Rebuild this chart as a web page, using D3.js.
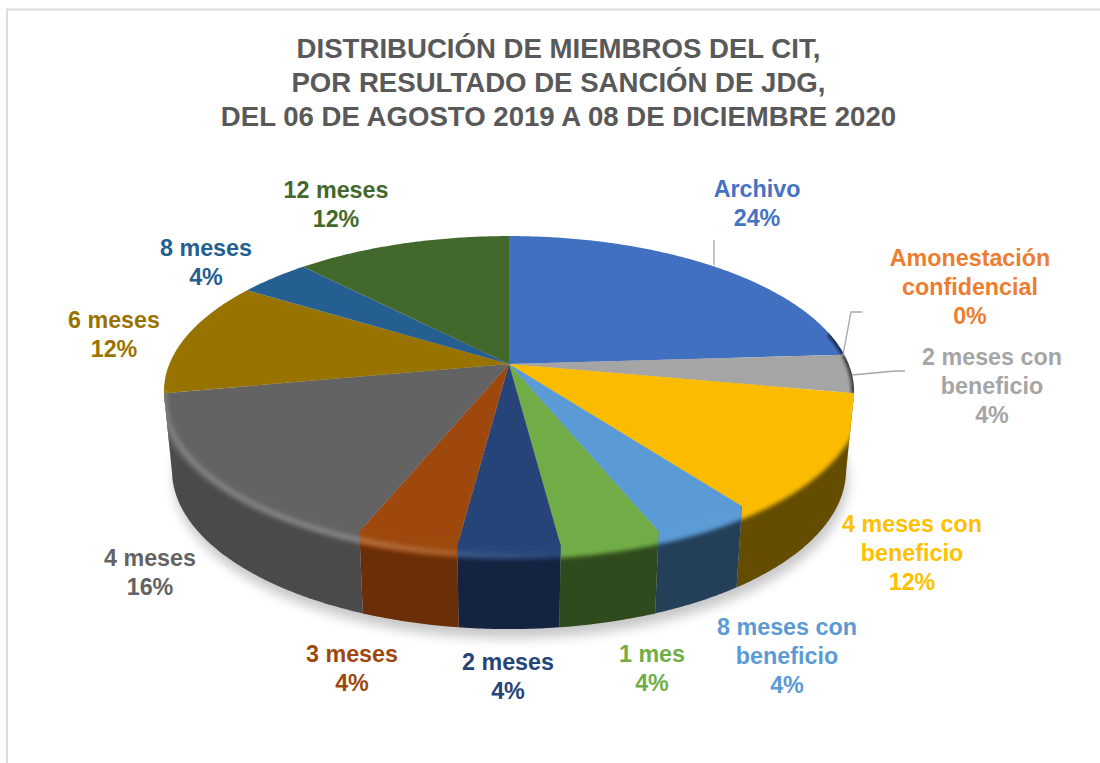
<!DOCTYPE html>
<html lang="es">
<head>
<meta charset="utf-8">
<script src="https://cdn.jsdelivr.net/npm/d3@7"></script>
<style>
html,body{margin:0;padding:0;background:#fff;overflow:hidden}
svg{display:block}
text{font-family:"Liberation Sans",Arial,sans-serif;font-weight:700}
</style>
</head>
<body>
<svg id="chart" width="1100" height="763"></svg>
<script>
// ---- data ----
const titleLines = [
  "DISTRIBUCIÓN DE MIEMBROS DEL CIT,",
  "POR RESULTADO DE SANCIÓN DE JDG,",
  "DEL 06 DE AGOSTO 2019 A 08 DE DICIEMBRE 2020"
];
const categories = [
  ["Archivo"], ["Amonestación", "confidencial"], ["2 meses con", "beneficio"],
  ["4 meses con", "beneficio"], ["8 meses con", "beneficio"], ["1 mes"],
  ["2 meses"], ["3 meses"], ["4 meses"], ["6 meses"], ["8 meses"], ["12 meses"]
];
const values = [24, 0, 4, 12, 4, 4, 4, 4, 16, 12, 4, 12];

// ---- styles ----
const topColors  = ["#4170c1","#ed7d31","#a5a5a5","#fbbc00","#5b9bd5","#70ad47","#264478","#9e480e","#636363","#997300","#255e91","#43682b"];
const sideColors = ["#2a4a80","#8a4a1e","#5a5a5a","#644d00","#243f58","#2f4a1d","#14233f","#6a2e08","#4a4a4a","#5c4500","#173a5a","#2a4219"];
const labelColors = ["#4472c4","#ed7d31","#a5a5a5","#ffc000","#5b9bd5","#70ad47","#264478","#9e480e","#636363","#997300","#255e91","#43682b"];

// ---- layout ----
const W = 1100, H = 763;
const labelPos = [[757,189],[970,258],[992,357],[912,524],[787,627],[652,654],[508,662],[352,654],[150,558],[114,320],[206,248],[336,190]];
const leaders = [
  [[714,240],[714,265]],
  [[843,355],[851,312],[862,312]],
  [[852,375],[895,371],[905,371]]
];
const K = 0.177;                                   // perspective strength
const topRim = {cx:509, cy:364, a:339.6, b:150.6}; // lid
const botRim = {cx:509, cy:442, a:331.7, b:154};   // base
const sideFrom = Math.acos(-K), sideTo = 2*Math.PI - sideFrom;

function project(r, th){
  const d = 1 + K*Math.cos(th);
  return [r.cx + r.a*Math.sin(th)/d, r.cy - r.b*Math.cos(th)/d];
}
function mix(t, th){
  const p = project(topRim, th), q = project(botRim, th);
  return [p[0]+(q[0]-p[0])*t, p[1]+(q[1]-p[1])*t];
}
const arcSamples = (a0, a1) => {
  const n = Math.max(2, Math.ceil((a1-a0)/0.01));
  return d3.range(n+1).map(i => a0 + (a1-a0)*i/n);
};
const line = d3.line();
const closed = d3.line().curve(d3.curveLinearClosed);

const svg = d3.select("#chart");
const defs = svg.append("defs");
[["blur1",1.4],["blur2",2.2],["blurS",6]].forEach(([id,s]) => {
  defs.append("filter").attr("id",id)
    .attr("filterUnits","userSpaceOnUse").attr("x",0).attr("y",0).attr("width",W).attr("height",H)
    .append("feGaussianBlur").attr("stdDeviation",s);
});
const hl = defs.append("linearGradient").attr("id","hl")
  .attr("gradientUnits","userSpaceOnUse").attr("x1",164).attr("x2",853).attr("y1",0).attr("y2",0);
[[0,.2],[.3,.22],[.46,.09],[.58,0],[1,0]].forEach(([o,a]) =>
  hl.append("stop").attr("offset",o).attr("stop-color","#fff").attr("stop-opacity",a));

// frame
svg.append("rect").attr("x",7).attr("y",9.5).attr("width",1300).attr("height",1000)
  .attr("fill","#fff").attr("stroke","#dcdcdc").attr("stroke-width",2);

// title
svg.append("g").attr("fill","#595959").attr("text-anchor","middle").attr("font-size",27.6)
  .selectAll("text").data(titleLines).join("text")
  .attr("x",558.5).attr("y",(d,i)=>58+34*i).text(d=>d);

// pie
const pieGen = d3.pie().sort(null).value(d=>d).startAngle(0).endAngle(2*Math.PI);
const slices = pieGen(values).map((s,i)=>({...s,i})).filter(s=>s.value>0);
const topPoly = s => [[topRim.cx,topRim.cy], ...arcSamples(s.startAngle,s.endAngle).map(t=>project(topRim,t))];
const sideRange = s => [Math.max(s.startAngle,sideFrom), Math.min(s.endAngle,sideTo)];
const hasSide = s => { const [a,b]=sideRange(s); return b>a; };
const sidePoly = s => {
  const [a,b]=sideRange(s), ts=arcSamples(a,b);
  return [...ts.map(t=>project(topRim,t)), ...ts.slice().reverse().map(t=>project(botRim,t))];
};

// ground shadow
svg.append("path")
  .attr("d", closed(arcSamples(0,2*Math.PI).map(t=>project(botRim,t))))
  .attr("fill","#000").attr("opacity",.22).attr("filter","url(#blurS)")
  .attr("transform","translate(2,9)");

// clip per slice
slices.forEach(s => {
  const c = defs.append("clipPath").attr("id","c"+s.i);
  c.append("path").attr("d",closed(topPoly(s)));
  if(hasSide(s)) c.append("path").attr("d",closed(sidePoly(s)));
});

// side walls
svg.append("g").selectAll("path").data(slices.filter(hasSide)).join("path")
  .attr("d",s=>closed(sidePoly(s))).attr("fill",s=>sideColors[s.i]);

// lids
svg.append("g").selectAll("path").data(slices).join("path")
  .attr("d",s=>closed(topPoly(s))).attr("fill",s=>topColors[s.i]);

// bevel
const bevel = svg.append("g");
slices.filter(hasSide).forEach(s => {
  const [a,b]=sideRange(s), ts=arcSamples(a-0.05,b+0.05);
  const g = bevel.append("g").attr("clip-path",`url(#c${s.i})`);
  g.append("path").attr("d",line(ts.map(t=>mix(0.05,t))))
    .attr("fill","none").attr("stroke",topColors[s.i]).attr("stroke-width",17).attr("filter","url(#blur2)");
  g.append("path").attr("d",line(ts.map(t=>mix(0.1,t))))
    .attr("fill","none").attr("stroke","url(#hl)").attr("stroke-width",5).attr("filter","url(#blur2)");
});
// dark edge at the back right of the lid
slices.forEach(s => {
  const a=Math.max(s.startAngle,1.36), b=Math.min(s.endAngle,1.76);
  if(b<=a) return;
  bevel.append("g").attr("clip-path",`url(#c${s.i})`).append("path")
    .attr("d",line(arcSamples(a,b).map(t=>project(topRim,t))))
    .attr("fill","none").attr("stroke","#000").attr("stroke-opacity",.6)
    .attr("stroke-width",6).attr("filter","url(#blur1)");
});

// leader lines
svg.append("g").selectAll("path").data(leaders).join("path")
  .attr("d",d=>line(d)).attr("fill","none").attr("stroke","#a6a6a6").attr("stroke-width",1.3);

// labels
const lab = svg.append("g").attr("text-anchor","middle").attr("font-size",23.3);
values.forEach((v,i)=>{
  const lines=[...categories[i], v+"%"];
  lab.append("g").attr("fill",labelColors[i]).selectAll("text").data(lines).join("text")
    .attr("x",labelPos[i][0]).attr("y",(d,j)=>labelPos[i][1]+29*j+8).text(d=>d);
});
</script>
</body>
</html>
